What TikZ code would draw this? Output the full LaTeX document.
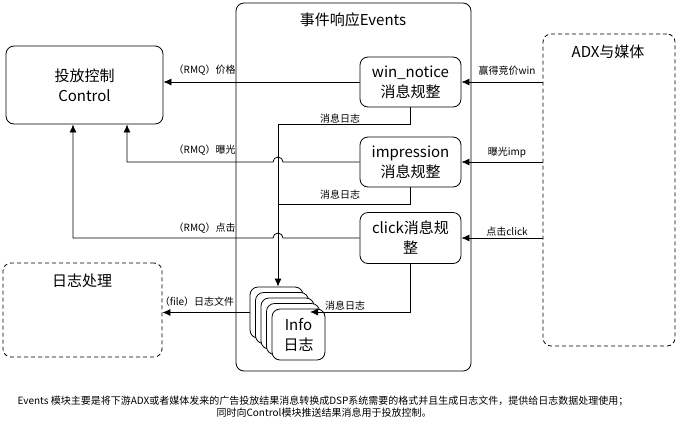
\documentclass[tikz,border=0pt]{standalone}
\usepackage{fontspec}
\setmainfont{Noto Sans CJK SC}
\usetikzlibrary{arrows.meta,calc}

\begin{document}
\begin{tikzpicture}[x=1pt, y=-1pt, line width=0.8pt,
		box/.style={draw, rounded corners=8pt, align=center, inner sep=0pt, font=\fontsize{15}{20}\selectfont},
		dbox/.style={box, dash pattern=on 4pt off 3pt},
		big/.style={font=\fontsize{15}{20}\selectfont, inner sep=0pt},
		lbl/.style={font=\fontsize{10}{12}\selectfont, inner sep=0pt},
		arr/.style={-{Latex[length=8pt,width=7pt]}}]
	\useasboundingbox (0,0) rectangle (676,426);
	\node[box, minimum width=157pt, minimum height=78pt] (ctrl) at (84.5,85) {投放控制\\Control};
	\node[box, minimum width=235pt, minimum height=368pt] (events) at (353.5,187) {};
	\node[big] (evtitle) at (353,20) {事件响应Events};
	\node[dbox, minimum width=132pt, minimum height=312pt] (adx) at (609,190) {};
	\node[big] (adxtitle) at (608,52) {ADX与媒体};
	\node[dbox, minimum width=159pt, minimum height=94pt] (logproc) at (82.5,310) {};
	\node[big] (logtitle) at (82,281) {日志处理};
	\node[box, minimum width=101pt, minimum height=50pt] (win) at (410.5,82) {win\_notice\\消息规整};
	\node[box, minimum width=101pt, minimum height=50pt] (imp) at (410.5,162) {impression\\消息规整};
	\node[box, minimum width=101pt, minimum height=51pt] (clk) at (410.5,238) {click消息规\\整};
	\foreach \i in {0,...,3}
		\node[box, fill=white, minimum width=53pt, minimum height=51pt] (info\i) at (276.5+5.5*\i, 312.5+5.5*\i) {};
	\node[box, fill=white, minimum width=53pt, minimum height=51pt] (info4) at (298.5,334.5) {Info\\日志};

	\coordinate (logbus) at (278,124);
	\coordinate (j2) at (278,204);
	\coordinate (c1) at (127,162);
	\coordinate (c2) at (73,238);
	\coordinate (login) at (310,312);

	\draw[arr] (adx.west |- win.east) -- (win.east);
	\draw[arr] (adx.west |- imp.east) -- (imp.east);
	\draw[arr] (adx.west |- clk.east) -- (clk.east);
	\node[lbl] (lwin) at (507,71) {赢得竞价win};
	\node[lbl] (limp) at (507,152) {曝光imp};
	\node[lbl] (lclk) at (507,232) {点击click};

	\draw[arr] (win.south) |- (logbus) -- (logbus |- info0.north);
	\draw (imp.south) |- (j2);
	\draw[arr] (clk.south) |- (login);
	\node[lbl] (lmsg1) at (340,119) {消息日志};
	\node[lbl] (lmsg2) at (340,195) {消息日志};
	\node[lbl] (lmsg3) at (345,306) {消息日志};

	\draw[arr] (win.west) -- (win.west -| ctrl.east);
	\draw[arr] (imp.west) -- ($(imp.west -| logbus)+(5,0)$) arc[start angle=0, end angle=180, radius=5pt]
		-- (c1) -- (c1 |- ctrl.south);
	\draw[arr] (clk.west) -- ($(clk.west -| logbus)+(5,0)$) arc[start angle=0, end angle=180, radius=5pt]
		-- (c2) -- (c2 |- ctrl.south);
	\node[lbl, anchor=east] (lrmq1) at (236,70) {（RMQ）价格};
	\node[lbl, anchor=east] (lrmq2) at (236,150) {（RMQ）曝光};
	\node[lbl, anchor=east] (lrmq3) at (236,228) {（RMQ）点击};

	\draw[arr] (info0.west) -- (info0.west -| logproc.east);
	\node[lbl] (lfile) at (197,302) {（file）日志文件};

	\node[lbl] (note1) at (323,401) {Events 模块主要是将下游ADX或者媒体发来的广告投放结果消息转换成DSP系统需要的格式并且生成日志文件，提供给日志数据处理使用；};
	\node[lbl] (note2) at (324,413) {同时向Control模块推送结果消息用于投放控制。};
\end{tikzpicture}
\end{document}
